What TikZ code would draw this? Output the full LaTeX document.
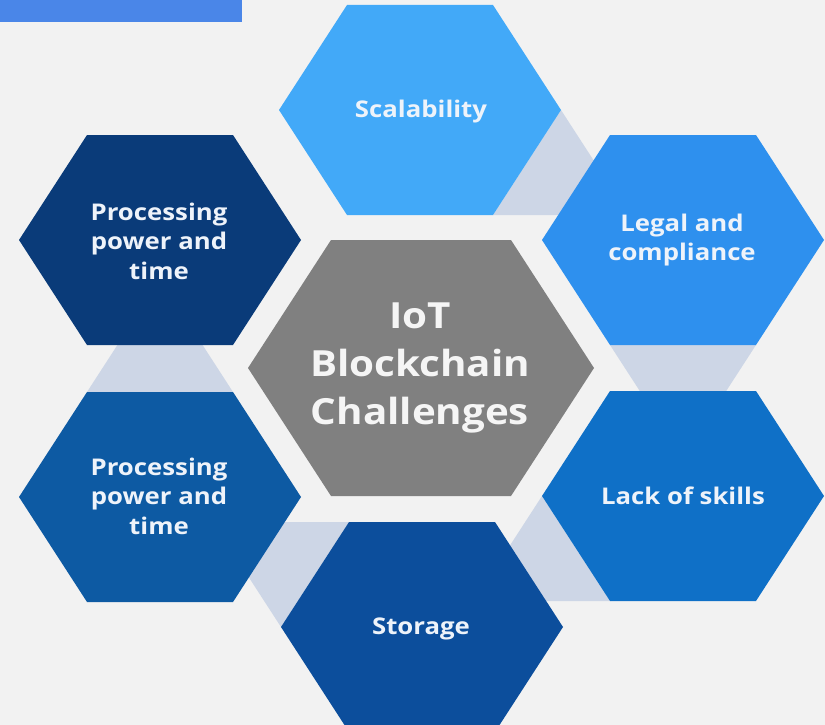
\documentclass[tikz,border=0pt]{standalone}
\usepackage{fontspec}
\setmainfont{Open Sans}
\usetikzlibrary{calc}
\definecolor{bgc}{HTML}{F2F2F2}
\definecolor{barc}{HTML}{4A86E8}
\definecolor{scalc}{HTML}{42A9F8}
\definecolor{legalc}{HTML}{2E90EE}
\definecolor{lackc}{HTML}{0F70C7}
\definecolor{storc}{HTML}{0C4E9C}
\definecolor{proctwoc}{HTML}{0D5AA3}
\definecolor{proconec}{HTML}{0A3B79}
\definecolor{centc}{HTML}{808080}
\definecolor{connc}{HTML}{CDD6E6}
\definecolor{txtc}{HTML}{EEF3FA}
\newcommand\hexdef[6]{%
 \coordinate (#1) at (#2,#3);
 \coordinate (#1-l) at ({#2-#4},#3);
 \coordinate (#1-r) at ({#2+#4},#3);
 \coordinate (#1-tl) at ({#2-#6},{#3-#5});
 \coordinate (#1-tr) at ({#2+#6},{#3-#5});
 \coordinate (#1-bl) at ({#2-#6},{#3+#5});
 \coordinate (#1-br) at ({#2+#6},{#3+#5});
}
\newcommand\hexfill[2]{\fill[#2] (#1-l) -- (#1-tl) -- (#1-tr) -- (#1-r) -- (#1-br) -- (#1-bl) -- cycle;}
\tikzset{
 lbl/.style={text=txtc, inner sep=0pt, align=center, xscale=1.12,
   font=\fontsize{23}{29.5}\selectfont\bfseries},
 biglbl/.style={text=white!96!black, inner sep=0pt, align=center, xscale=1.12,
   font=\fontsize{36}{48}\selectfont\bfseries},
 conn/.style={fill=connc}
}
\begin{document}
\begin{tikzpicture}[x=1pt,y=-1pt]
\useasboundingbox (0,0) rectangle (825,725);
\clip (0,0) rectangle (825,725);
\fill[bgc] (0,0) rectangle (825,725);
\fill[barc] (0,0) rectangle (242,22);
% hexagon geometry
\hexdef{scal}{420}{110}{141}{105}{73}
\hexdef{legal}{683}{240}{141}{105}{73}
\hexdef{procA}{160}{240}{141}{105}{73}
\hexdef{procB}{160}{497}{141}{105}{73}
\hexdef{lack}{683}{496}{141}{105}{73}
\hexdef{stor}{422}{627}{141}{105}{73}
\hexdef{cent}{421}{368}{173}{128}{90}
% connectors (triangle tips)
\fill[conn] (scal-r) -- (scal-br) -- ($(scal-tr)!2!(scal-r)$) -- cycle;
\fill[conn] (legal-bl) -- (legal-br) -- (intersection of legal-l--legal-bl and legal-r--legal-br) -- cycle;
\fill[conn] (lack-l) -- (lack-bl) -- ($(lack-tl)!2!(lack-l)$) -- cycle;
\fill[conn] (stor-l) -- (stor-tl) -- ($(stor-bl)!2!(stor-l)$) -- cycle;
\fill[conn] (procB-tl) -- (procB-tr) -- (intersection of procB-l--procB-tl and procB-r--procB-tr) -- cycle;
% hexagons
\hexfill{scal}{scalc}
\hexfill{legal}{legalc}
\hexfill{procA}{proconec}
\hexfill{procB}{proctwoc}
\hexfill{lack}{lackc}
\hexfill{stor}{storc}
\hexfill{cent}{centc}
% labels
\node[lbl] (tscal) at (421,112) {Scalability};
\node[lbl] (tlegal) at (682,240) {Legal and\\compliance};
\node[lbl] (tprocA) at (159,241) {Processing\\power and\\time};
\node[lbl] (tprocB) at (159,496) {Processing\\power and\\time};
\node[lbl] (tlack) at (683,496) {Lack of skills};
\node[lbl] (tstor) at (421,629) {Storage};
\node[biglbl] (tcent) at (420,368) {IoT\\Blockchain\\Challenges};
\end{tikzpicture}
\end{document}
